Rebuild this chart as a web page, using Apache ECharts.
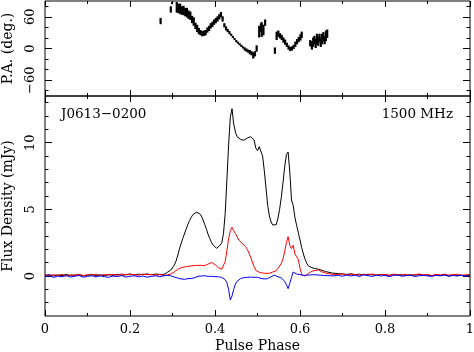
<!DOCTYPE html>
<html><head><meta charset="utf-8">
<script src="https://cdn.jsdelivr.net/npm/echarts@6/dist/echarts.min.js"></script>
<style>html,body{margin:0;padding:0;background:#fff}#c{width:474px;height:352px}</style>
</head><body><div id="c"></div><script>
// Pulse phase bins
const phase = [
0.00,0.01,0.02,0.03,0.04,0.05,0.06,0.07,0.08,0.09,0.10,0.11,0.12,0.13,0.14,0.15,0.16,0.17,0.18,0.19,0.20,0.21,0.22,0.23,0.24,0.25,0.26,0.27,
0.280,0.284,0.288,0.292,0.296,0.300,0.304,0.308,0.312,0.316,0.320,0.324,0.328,0.332,0.336,0.340,0.344,0.348,0.352,0.356,0.360,0.364,0.368,0.372,0.376,0.380,0.384,0.388,0.392,0.396,0.400,0.404,0.408,0.412,0.416,0.420,0.424,0.428,0.432,0.436,0.440,0.444,0.448,0.452,0.456,0.460,0.464,0.468,0.472,0.476,0.480,0.484,0.488,0.492,0.496,0.500,0.504,0.508,0.512,0.516,0.520,0.524,0.528,0.532,0.536,0.540,0.544,0.548,0.552,0.556,0.560,0.564,0.568,0.572,0.576,0.580,0.584,0.588,0.592,0.596,0.600,0.604,0.608,0.612,0.616,0.620,0.624,0.628,0.632,0.636,0.640,0.644,0.648,0.652,0.656,0.660,0.664,0.668,0.672,0.676,0.680,
0.69,0.70,0.71,0.72,0.73,0.74,0.75,0.76,0.77,0.78,0.79,0.80,0.81,0.82,0.83,0.84,0.85,0.86,0.87,0.88,0.89,0.90,0.91,0.92,0.93,0.94,0.95,0.96,0.97,0.98,0.99,1.00];
// Total intensity (mJy)
const fluxI = [
0.05,0.10,0.00,0.08,0.03,0.12,0.02,0.07,0.10,0.00,0.06,0.11,0.04,0.09,0.02,0.10,0.05,0.13,0.06,0.10,0.15,0.08,0.14,0.10,0.16,0.09,0.15,0.12,
0.12,0.20,0.28,0.35,0.45,0.58,0.80,1.10,1.50,2.00,2.40,2.80,3.15,3.50,3.85,4.15,4.40,4.60,4.70,4.78,4.70,4.67,4.50,4.20,3.85,3.50,3.10,2.80,2.50,2.30,2.15,2.08,2.17,2.30,2.50,3.20,4.70,7.20,9.80,11.90,12.55,11.40,10.80,10.45,10.30,10.25,10.15,10.18,10.30,10.35,10.42,10.45,10.40,10.20,9.60,9.40,9.70,9.60,9.00,7.90,6.60,5.30,4.50,4.05,3.82,3.75,3.85,4.30,5.00,5.90,7.00,8.20,9.10,9.30,7.80,5.70,5.30,4.40,3.80,3.25,2.70,2.13,1.65,1.25,0.95,0.75,0.68,0.62,0.63,0.56,0.58,0.50,0.50,0.42,0.40,0.33,0.35,0.28,0.30,0.22,0.24,
0.18,0.15,0.12,0.16,0.10,0.14,0.08,0.13,0.10,0.06,0.12,0.09,0.05,0.11,0.07,0.10,0.03,0.09,0.06,0.11,0.04,0.08,0.02,0.10,0.05,0.07,0.00,0.09,0.04,0.06,0.02,0.08];
// Linear polarisation (mJy)
const fluxL = [
0.08,0.02,0.10,0.04,0.12,0.00,0.09,0.05,0.13,0.03,0.10,0.06,0.14,0.02,0.11,0.07,0.12,0.05,0.15,0.08,0.13,0.10,0.06,0.14,0.09,0.12,0.05,0.10,
0.05,0.03,0.08,0.10,0.15,0.22,0.30,0.42,0.50,0.60,0.62,0.70,0.68,0.75,0.72,0.80,0.76,0.82,0.78,0.85,0.80,0.86,0.80,0.84,0.78,0.86,0.90,0.95,1.02,0.98,0.85,0.72,0.62,0.55,0.50,0.60,1.10,1.90,2.80,3.40,3.65,3.40,3.20,2.95,2.70,2.60,2.45,2.30,2.20,2.00,1.70,1.40,1.05,0.70,0.42,0.32,0.28,0.35,0.22,0.30,0.20,0.26,0.20,0.28,0.30,0.35,0.40,0.55,0.75,0.95,1.30,1.85,2.50,2.95,2.30,2.05,2.30,1.65,1.45,1.25,0.60,0.10,0.02,0.00,0.08,0.20,0.30,0.36,0.40,0.42,0.45,0.45,0.38,0.30,0.28,0.22,0.25,0.18,0.20,0.12,0.15,
0.12,0.16,0.08,0.14,0.10,0.05,0.13,0.08,0.15,0.06,0.10,0.12,0.04,0.14,0.09,0.07,0.13,0.05,0.10,0.15,0.08,0.11,0.03,0.12,0.07,0.14,0.06,0.10,0.13,0.05,0.09,0.11];
// Circular polarisation (mJy)
const fluxV = [
-0.05,0.02,-0.10,0.00,-0.06,0.03,-0.08,-0.02,0.04,-0.09,-0.03,0.02,-0.07,0.01,-0.05,-0.10,0.00,-0.04,0.03,-0.08,-0.02,0.02,-0.06,0.00,-0.09,-0.03,0.02,-0.05,
0.02,-0.05,0.04,-0.03,0.02,-0.06,-0.08,-0.10,-0.15,-0.12,-0.22,-0.18,-0.25,-0.15,-0.20,-0.12,-0.18,-0.10,-0.14,-0.05,-0.02,0.05,0.00,0.08,0.02,0.06,-0.03,0.04,-0.02,0.02,-0.05,0.00,-0.06,-0.03,-0.10,-0.15,-0.28,-0.50,-1.00,-1.80,-1.50,-1.00,-0.60,-0.40,-0.30,-0.20,-0.25,-0.12,-0.18,-0.10,-0.15,-0.08,-0.14,-0.10,-0.16,-0.10,-0.13,-0.18,-0.12,-0.22,-0.15,-0.20,-0.10,-0.05,0.02,0.06,0.00,-0.05,-0.08,-0.15,-0.22,-0.40,-0.65,-0.95,-0.55,-0.10,0.30,0.25,0.15,0.20,0.10,0.08,0.05,0.10,0.06,0.12,0.08,0.13,0.10,0.05,0.08,0.02,0.06,0.00,0.04,-0.02,0.03,-0.03,0.02,-0.04,0.01,
0.05,-0.02,0.08,0.00,0.06,-0.04,0.10,0.02,-0.03,0.07,0.00,0.05,-0.05,0.04,0.08,-0.02,0.03,0.06,-0.04,0.02,0.07,0.00,-0.03,0.05,0.01,0.08,-0.02,0.04,0.00,0.06,-0.03,0.05];
// Position angle points (deg) with their error half-widths
const paPhase = [0.272,0.296,0.299,
0.310,0.314,0.318,0.322,0.326,0.330,0.334,0.338,0.342,0.346,0.350,0.354,0.358,0.362,0.366,0.370,0.374,0.378,0.382,0.386,0.390,0.394,0.398,0.402,0.406,0.410,0.414,0.418,0.422,0.426,0.430,0.434,0.438,0.442,0.446,0.450,0.454,0.458,0.462,0.466,0.470,0.474,0.478,0.482,0.486,0.490,0.494,0.498,
0.504,0.508,0.510,0.514,0.518,0.541,
0.545,0.549,0.553,0.557,0.561,0.565,0.569,0.573,0.577,0.581,0.585,0.589,0.593,0.597,0.601,0.604,
0.624,0.628,0.631,0.634,0.637,0.640,0.643,0.646,0.649,0.652,0.655,0.658,0.661,0.664];
const paDeg = [52,74,86,
78,76,75,72,72,69,68,64,62,55,51,43,38,33,30,28,29,30,35,38,43,46,50,53,56,60,64,56,44,38,34,30,26,22,18,14,11,8,5,2,-1,-3,-5,-7,-9,-13,-10,0,
32,40,36,35,49,-4,
24,28,24,21,16,12,7,2,-1,0,3,8,13,17,21,26,
10,6,12,16,10,18,14,20,12,18,22,16,24,28];
const paErr = [6,6,2,
10,9,10,8,9,8,9,8,8,7,8,6,7,6,5,5,5,5,5,5,5,5,5,5,5,5,5,5,4,4,3,3,2,2,2,2,2,2,2,2,3,3,3,4,4,6,5,6,
11,8,14,10,6,6,
8,6,5,5,5,5,4,4,4,4,4,5,5,5,6,6,
6,8,9,8,9,10,9,8,9,10,9,8,10,8];
// Ticks
const xTicks = [0,0.2,0.4,0.6,0.8,1];
const xMinor = [0.1,0.3,0.5,0.7,0.9];
const fluxTicks = [0,5,10];
const fluxMinor = [-2,-1,1,2,3,4,6,7,8,9,11,12,13];
const paTicks = [-60,0,60];
const paMinor = [-80,-40,-20,20,40,80];

const FONT = 'DejaVu Serif';
const fmt = v => (v < 0 ? '\u2212' + Math.abs(v) : String(v));

function xAx(grid, pos, ticks, len, label, name) {
  const a = {type:'value', gridIndex:grid, position:pos, min:0, max:1,
    axisLine:{show:false, onZero:false}, splitLine:{show:false},
    axisTick:{show:true, inside:true, length:len, customValues:ticks, lineStyle:{color:'#000', width:1}},
    axisLabel:{show:false}};
  if (label) {
    a.axisLabel = {show:true, customValues:ticks, margin:7, color:'#000', fontFamily:FONT, fontSize:13, formatter:fmt};
    a.name = name; a.nameLocation = 'middle'; a.nameGap = 23; a.nameMoveOverlap = false;
    a.nameTextStyle = {color:'#000', fontFamily:FONT, fontSize:14};
  }
  return a;
}
function yAx(grid, pos, min, max, ticks, len, label, name) {
  const a = {type:'value', gridIndex:grid, position:pos, min:min, max:max,
    axisLine:{show:false, onZero:false}, splitLine:{show:false},
    axisTick:{show:true, inside:true, length:len, customValues:ticks, lineStyle:{color:'#000', width:1}},
    axisLabel:{show:false}};
  if (label) {
    a.axisLabel = {show:true, customValues:ticks, rotate:90, margin:8, color:'#000', fontFamily:FONT, fontSize:13, formatter:fmt};
    a.name = name; a.nameLocation = 'middle'; a.nameGap = 30; a.nameRotate = 90; a.nameMoveOverlap = false;
    a.nameTextStyle = {color:'#000', fontFamily:FONT, fontSize:14};
  }
  return a;
}

const xAxes = [
  xAx(0,'bottom',xTicks,6,false), xAx(0,'bottom',xMinor,3,false),
  xAx(0,'top',xTicks,6,false), xAx(0,'top',xMinor,3,false),
  xAx(1,'bottom',xTicks,6,true,'Pulse Phase'), xAx(1,'bottom',xMinor,3,false),
  xAx(1,'top',xTicks,6,false), xAx(1,'top',xMinor,3,false)];
const yAxes = [
  yAx(0,'left',-90,90,paTicks,7,true,'P.A. (deg.)'), yAx(0,'left',-90,90,paMinor,3.5,false),
  yAx(0,'right',-90,90,paTicks,7,false), yAx(0,'right',-90,90,paMinor,3.5,false),
  yAx(1,'left',-3,13.5,fluxTicks,7,true,'Flux Density (mJy)'), yAx(1,'left',-3,13.5,fluxMinor,3.5,false),
  yAx(1,'right',-3,13.5,fluxTicks,7,false), yAx(1,'right',-3,13.5,fluxMinor,3.5,false)];

const pair = arr => phase.map((p, i) => [p, arr[i]]);
const paData = paPhase.map((p, i) => [p, paDeg[i], paErr[i]]);

const chart = echarts.init(document.getElementById('c'), null, {renderer:'canvas'});
chart.setOption({
  animation:false,
  backgroundColor:'#fff',
  grid:[
    {left:45, right:4, top:1, height:95, show:true, borderColor:'#000', borderWidth:1, backgroundColor:'transparent', containLabel:false, outerBoundsMode:'none'},
    {left:45, right:4, top:96, height:220, show:true, borderColor:'#000', borderWidth:1, backgroundColor:'transparent', containLabel:false, outerBoundsMode:'none'}],
  xAxis:xAxes,
  yAxis:yAxes,
  graphic:[
    {type:'text', left:61, top:107, style:{text:'J0613\u22120200', fill:'#000', font:'13.5px "DejaVu Serif"'}},
    {type:'text', right:21, top:107, style:{text:'1500 MHz', fill:'#000', font:'13.5px "DejaVu Serif"'}}],
  series:[
    {type:'custom', xAxisIndex:0, yAxisIndex:0, clip:true, data:paData, encode:{x:0, y:1},
      renderItem:(params, api) => {
        const x = api.value(0), y = api.value(1), e = api.value(2);
        const p1 = api.coord([x, y - e]), p2 = api.coord([x, y + e]);
        return {type:'line', shape:{x1:p1[0], y1:p1[1], x2:p2[0], y2:p2[1]}, style:{stroke:'#000', lineWidth:2.2}};
      }},
    {type:'line', xAxisIndex:4, yAxisIndex:4, data:pair(fluxI), showSymbol:false, symbol:'none', lineStyle:{color:'#000', width:1}},
    {type:'line', xAxisIndex:4, yAxisIndex:4, data:pair(fluxL), showSymbol:false, symbol:'none', lineStyle:{color:'#ff0000', width:1}},
    {type:'line', xAxisIndex:4, yAxisIndex:4, data:pair(fluxV), showSymbol:false, symbol:'none', lineStyle:{color:'#0000ff', width:1}}
  ]
});
</script></body></html>
